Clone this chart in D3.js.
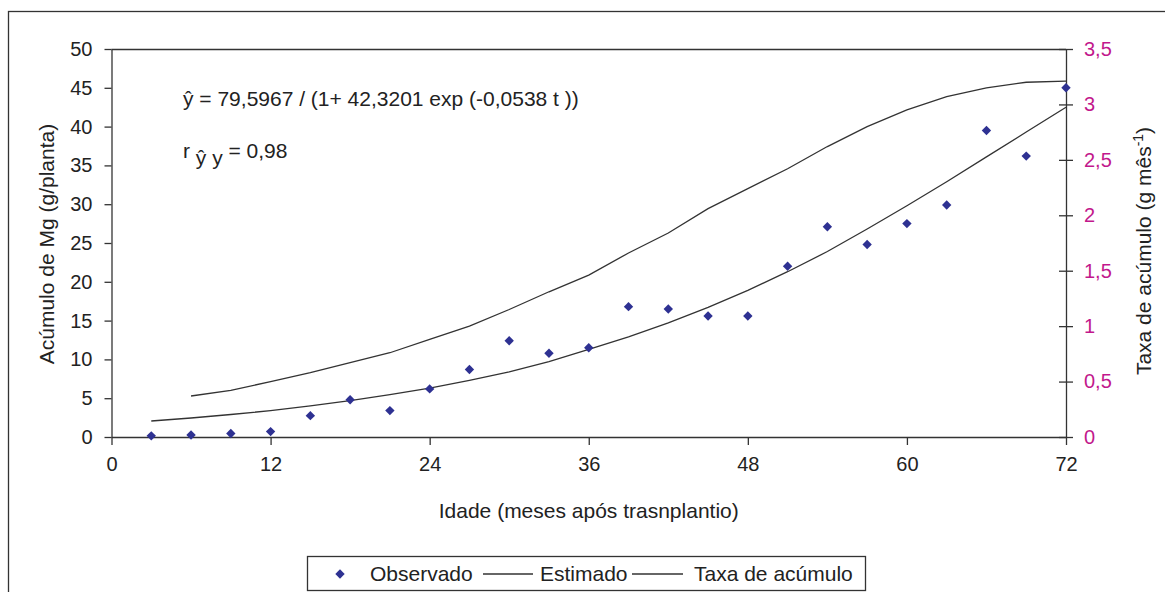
<!DOCTYPE html>
<html>
<head>
<meta charset="utf-8">
<script src="https://cdn.jsdelivr.net/npm/d3@7"></script>
<style>
  body { margin: 0; background: #fff; }
  text { font-family: "Liberation Sans", Arial, sans-serif; fill: #222; }
</style>
</head>
<body>
<svg width="1165" height="592"></svg>
<script>
// months after transplanting
const months = [3, 6, 9, 12, 15, 18, 21, 24, 27, 30, 33, 36, 39, 42, 45, 48, 51, 54, 57, 60, 63, 66, 69, 72];
// observed Mg accumulation (g/planta)
const observado = [0.15, 0.25, 0.45, 0.7, 2.75, 4.8, 3.4, 6.2, 8.7, 12.4, 10.8, 11.5, 16.8, 16.5, 15.6, 15.6, 22.0, 27.1, 24.8, 27.5, 29.9, 39.5, 36.2, 45.0];
// fitted curve
const estimado = [2.06, 2.45, 2.9, 3.4, 4.0, 4.7, 5.45, 6.3, 7.3, 8.4, 9.7, 11.3, 12.9, 14.7, 16.7, 18.9, 21.3, 23.9, 26.8, 29.8, 32.9, 36.1, 39.3, 42.5];
// accumulation rate (g mês-1), starts at month 6
const taxaMonths = months.slice(1);
const taxa = [0.37, 0.42, 0.5, 0.58, 0.67, 0.76, 0.88, 1.0, 1.15, 1.31, 1.46, 1.66, 1.84, 2.06, 2.24, 2.42, 2.62, 2.8, 2.95, 3.07, 3.15, 3.2, 3.21];

const xTicks = [0, 12, 24, 36, 48, 60, 72];
const yTicks = d3.range(0, 51, 5);
const y2Ticks = d3.range(0, 3.51, 0.5);

const svg = d3.select("svg");
const plotLeft = 111.5, plotRight = 1066, plotTop = 49, plotBottom = 437;
const fontSize = 20;
const labelSize = 21;
const magenta = "#c2188c";
const navy = "#2e3192";

const ptBR = d3.formatLocale({ decimal: ",", thousands: ".", grouping: [3], currency: ["", ""] });
const fmt = ptBR.format(".1~f");

const x = d3.scaleLinear().domain([0, 72]).range([plotLeft, plotRight]);
const y = d3.scaleLinear().domain([0, 50]).range([plotBottom, plotTop]);
const y2 = d3.scaleLinear().domain([0, 3.5]).range([plotBottom, plotTop]);

// outer frame
svg.append("rect")
  .attr("x", 8.5).attr("y", 11.5)
  .attr("width", 1170).attr("height", 600)
  .attr("fill", "none").attr("stroke", "#333").attr("stroke-width", 1.3);

// top border of the plot area
svg.append("line")
  .attr("x1", plotLeft).attr("x2", plotRight)
  .attr("y1", plotTop + 0.5).attr("y2", plotTop + 0.5)
  .attr("stroke", "#333").attr("stroke-width", 1.3);

const styleAxis = (g) => {
  g.selectAll(".domain").attr("stroke", "#333").attr("stroke-width", 1.3);
  g.selectAll(".tick line").attr("stroke", "#333").attr("stroke-width", 1.3);
  g.selectAll(".tick text").attr("font-size", fontSize).attr("font-family", null);
};

svg.append("g")
  .attr("transform", `translate(0,${plotBottom})`)
  .call(d3.axisBottom(x).tickValues(xTicks).tickSize(8).tickSizeOuter(0).tickPadding(12))
  .call(styleAxis);

svg.append("g")
  .attr("transform", `translate(${plotLeft},0)`)
  .call(d3.axisLeft(y).tickValues(yTicks).tickSize(7).tickSizeOuter(0).tickPadding(12))
  .call(styleAxis);

const rightAxis = svg.append("g")
  .attr("transform", `translate(${plotRight},0)`)
  .call(d3.axisRight(y2).tickValues(y2Ticks).tickFormat(fmt).tickSize(7).tickSizeOuter(0).tickPadding(11))
  .call(styleAxis);
rightAxis.selectAll(".tick line").attr("x1", -7);
rightAxis.selectAll(".tick text").style("fill", magenta);

// lines
const lineEst = d3.line().x((d, i) => x(months[i])).y((d) => y(d));
svg.append("path")
  .datum(estimado)
  .attr("d", lineEst)
  .attr("fill", "none").attr("stroke", "#333").attr("stroke-width", 1.3);

const lineTaxa = d3.line().x((d, i) => x(taxaMonths[i])).y((d) => y2(d));
svg.append("path")
  .datum(taxa)
  .attr("d", lineTaxa)
  .attr("fill", "none").attr("stroke", "#333").attr("stroke-width", 1.3);

// observed points as diamonds
const diamond = d3.symbol().type(d3.symbolSquare).size(44);
svg.append("g")
  .selectAll("path")
  .data(observado)
  .join("path")
  .attr("d", diamond)
  .attr("transform", (d, i) => `translate(${x(months[i])},${y(d)}) rotate(45)`)
  .attr("fill", navy);

// equation texts
svg.append("text")
  .attr("x", 183).attr("y", 106)
  .attr("font-size", labelSize)
  .text("ŷ = 79,5967 / (1+ 42,3201 exp (-0,0538 t ))");

const rText = svg.append("text").attr("x", 183).attr("y", 158).attr("font-size", labelSize);
rText.append("tspan").text("r ");
rText.append("tspan").attr("dy", 7).text("ŷ y");
rText.append("tspan").attr("dy", -7).text(" = 0,98");

// axis titles
svg.append("text")
  .attr("x", (plotLeft + plotRight) / 2).attr("y", 518)
  .attr("text-anchor", "middle").attr("font-size", labelSize)
  .text("Idade (meses após trasnplantio)");

svg.append("text")
  .attr("transform", "translate(54,244) rotate(-90)")
  .attr("text-anchor", "middle").attr("font-size", labelSize)
  .text("Acúmulo de Mg (g/planta)");

const t2 = svg.append("text")
  .attr("transform", "translate(1151,251) rotate(-90)")
  .attr("text-anchor", "middle").attr("font-size", labelSize);
t2.append("tspan").text("Taxa de acúmulo (g mês");
t2.append("tspan").attr("dy", -8).attr("font-size", 14).text("-1");
t2.append("tspan").attr("dy", 8).text(")");

// legend
const legend = svg.append("g");
legend.append("rect")
  .attr("x", 307.5).attr("y", 556.5).attr("width", 558).attr("height", 34)
  .attr("fill", "#fff").attr("stroke", "#333").attr("stroke-width", 1.3);
const ly = 574;
legend.append("path").attr("d", diamond).attr("transform", `translate(340,${ly}) rotate(45)`).attr("fill", navy);
legend.append("text").attr("x", 370).attr("y", ly + 7).attr("font-size", labelSize).text("Observado");
legend.append("line").attr("x1", 483).attr("x2", 533).attr("y1", ly).attr("y2", ly).attr("stroke", "#333").attr("stroke-width", 1.3);
legend.append("text").attr("x", 540).attr("y", ly + 7).attr("font-size", labelSize).text("Estimado");
legend.append("line").attr("x1", 632).attr("x2", 683).attr("y1", ly).attr("y2", ly).attr("stroke", "#333").attr("stroke-width", 1.3);
legend.append("text").attr("x", 694).attr("y", ly + 7).attr("font-size", labelSize).text("Taxa de acúmulo");
</script>
</body>
</html>
